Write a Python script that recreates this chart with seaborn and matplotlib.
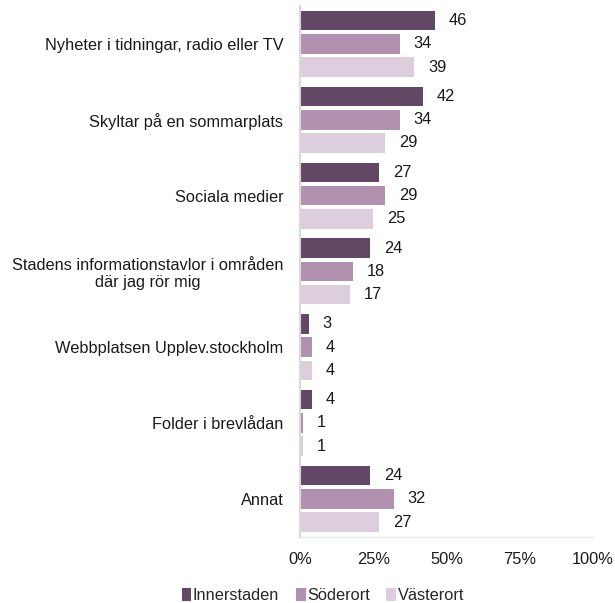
import pandas as pd
import numpy as np
import matplotlib
matplotlib.use("Agg")
import matplotlib.pyplot as plt
import seaborn as sns
from matplotlib.ticker import PercentFormatter

# categories and values (percent)
categories = ["Nyheter i tidningar, radio eller TV",
              "Skyltar på en sommarplats",
              "Sociala medier",
              "Stadens informationstavlor i områden\ndär jag rör mig",
              "Webbplatsen Upplev.stockholm",
              "Folder i brevlådan",
              "Annat"]
areas = ["Innerstaden", "Söderort", "Västerort"]
innerstaden = [46, 42, 27, 24, 3, 4, 24]
soderort = [34, 34, 29, 18, 4, 1, 32]
vasterort = [39, 29, 25, 17, 4, 1, 27]
colors = ["#624865", "#b091b0", "#dccedc"]

df = pd.DataFrame({
    "Kategori": categories * 3,
    "Område": [areas[0]] * 7 + [areas[1]] * 7 + [areas[2]] * 7,
    "Andel": innerstaden + soderort + vasterort,
})

sns.set_style("white")
plt.rcParams["font.family"] = ["Liberation Sans", "DejaVu Sans"]
fs = 11.8

fig = plt.figure(figsize=(6.15, 6.03), dpi=100)
ax = fig.add_axes([0.488, 0.11, 0.476, 0.88])

sns.barplot(data=df, y="Kategori", x="Andel", hue="Område", order=categories,
            hue_order=areas, palette=colors, width=0.92, gap=0.16,
            orient="h", ax=ax, legend=True, saturation=1, linewidth=0)

for cont in ax.containers:
    ax.bar_label(cont, fmt="%d", padding=10, fontsize=fs, color="#1a1a1a")

ax.set_xlim(0, 100)
ax.set_ylim(6.5, -0.5)
ax.set_xticks([0, 25, 50, 75, 100])
ax.xaxis.set_major_formatter(PercentFormatter(decimals=0))
ax.set_xlabel("")
ax.set_ylabel("")
ax.tick_params(axis="both", length=0, labelsize=fs, colors="#1a1a1a")
ax.tick_params(axis="x", pad=11)
ax.tick_params(axis="y", pad=12)
# two-line label is centred in the original
for lab in ax.get_yticklabels():
    lab.set_multialignment("center")

for s in ["top", "right"]:
    ax.spines[s].set_visible(False)
ax.spines["left"].set_color("#d9d9d9")
ax.spines["left"].set_linewidth(1.5)
ax.spines["bottom"].set_color("#e6e6e6")
ax.spines["bottom"].set_linewidth(1)

handles, labels = ax.get_legend_handles_labels()
ax.legend_.remove()
fig.legend(handles, labels, loc="lower center", bbox_to_anchor=(0.525, -0.025),
           ncol=3, frameon=False, fontsize=fs, handlelength=0.6,
           handleheight=0.9, handletextpad=0.1, columnspacing=1.0)

fig.savefig("out.png", dpi=100)
